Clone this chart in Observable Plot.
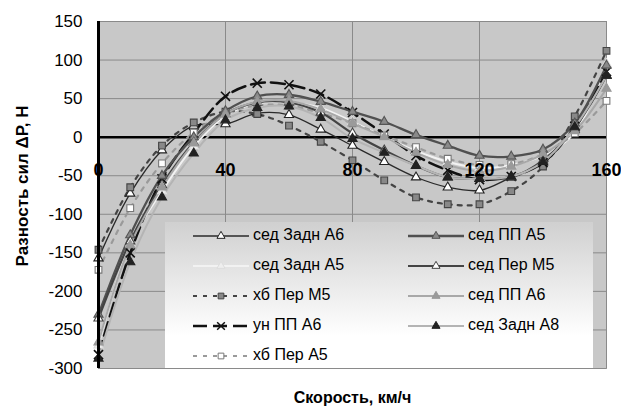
<!DOCTYPE html>
<html><head><meta charset="utf-8">
<script src="https://cdn.jsdelivr.net/npm/d3@7"></script>
<script src="https://cdn.jsdelivr.net/npm/@observablehq/plot@0.6"></script>
<style>
body{margin:0;background:#fff;font-family:"Liberation Sans",Arial,sans-serif;}
#wrap{position:relative;width:621px;height:412px;}
#legend{position:absolute;left:165px;top:222px;width:428px;height:146px;background:linear-gradient(#d0d0d0,#ffffff 78%);}
.item{position:absolute;display:flex;align-items:center;font-size:16px;color:#000;height:20px;white-space:nowrap;}
.item svg{margin-right:4px;}
</style></head><body><div id="wrap"></div>
<script>
// ---- data ----
const speeds = [0,10,20,30,40,50,60,70,80,90,100,110,120,130,140,150,160];
const sedZadnA6 = [-157,-73,-17,15,17,31,29,10,-11,-32,-52,-65,-69,-52,-33,10,80];
const sedZadnA5 = [-270,-138,-70,-12,28,44,45,38,20,0,-18,-32,-40,-36,-24,6,95];
const hbPerM5   = [-146,-65,-11,19,33,30,15,-6,-30,-56,-78,-87,-87,-70,-38,27,112];
const unPPA6    = [-282,-150,-54,5,53,70,68,56,32,4,-24,-43,-55,-51,-33,14,85];
const hbPerA5   = [-172,-92,-34,6,31,41,41,31,18,2,-13,-28,-36,-35,-22,5,47];
const sedPPA5   = [-230,-127,-50,0,34,53,55,46,33,20,3,-11,-24,-25,-16,18,93];
const sedPerM5  = [-235,-135,-62,-7,30,45,45,32,5,-17,-37,-52,-54,-52,-30,12,80];
const sedPPA6   = [-266,-140,-65,-8,30,46,47,36,18,0,-20,-36,-44,-38,-22,8,63];
const sedZadnA8 = [-287,-162,-78,-21,22,38,40,25,-2,-20,-37,-52,-54,-51,-32,13,80];
const seriesNames = ["сед Задн А6","сед Задн А5","хб Пер М5","ун ПП А6","хб Пер А5","сед ПП А5","сед Пер М5","сед ПП А6","сед Задн А8"];
const seriesValues = [sedZadnA6,sedZadnA5,hbPerM5,unPPA6,hbPerA5,sedPPA5,sedPerM5,sedPPA6,sedZadnA8];
const yTicks = [-300,-250,-200,-150,-100,-50,0,50,100,150];
const xTicks = [0,40,80,120,160];

// ---- styles ----
const styles = [
  {stroke:"#2a2a2a", w:1.3, dash:null, sym:"triangle", fill:"#fff", ms:"#222"},
  {stroke:"#f2f2f2", w:2, dash:null, sym:"triangle", fill:"#eee", ms:"#ddd"},
  {stroke:"#444", w:2.2, dash:"4,6", sym:"square", fill:"#888", ms:"#444"},
  {stroke:"#111", w:2.5, dash:"14,6", sym:"times", fill:"none", ms:"#111"},
  {stroke:"#9a9a9a", w:2.2, dash:"4,6", sym:"square", fill:"#fff", ms:"#777"},
  {stroke:"#505050", w:2.3, dash:null, sym:"triangle", fill:"#8a8a8a", ms:"#555"},
  {stroke:"#444", w:2.2, dash:null, sym:"triangle", fill:"#fff", ms:"#444"},
  {stroke:"#a8a8a8", w:2, dash:null, sym:"triangle", fill:"#9a9a9a", ms:"#999"},
  {stroke:"#b4b4b4", w:2, dash:null, sym:"triangle", fill:"#222", ms:"#222"}
];
const symR = {triangle:3.4, square:3.8, times:4.2};

const marks = [
  Plot.frame({fill:"#c8c8c8", stroke:"#999"}),
  Plot.gridY(yTicks, {stroke:"#8a8a8a", strokeOpacity:1, strokeWidth:1}),
  Plot.gridX([40,80,120,160], {stroke:"#8a8a8a", strokeOpacity:1, strokeWidth:1}),
  Plot.ruleY([0], {stroke:"#000", strokeWidth:2.5})
];
seriesValues.forEach((vals, k) => {
  const st = styles[k];
  const rows = speeds.map((x,i) => ({x, y: vals[i]}));
  marks.push(Plot.line(rows, {x:"x", y:"y", curve:"catmull-rom", stroke:st.stroke, strokeWidth:st.w, strokeDasharray:st.dash}));
});
seriesValues.forEach((vals, k) => {
  const st = styles[k];
  const rows = speeds.map((x,i) => ({x, y: vals[i]}));
  marks.push(Plot.dot(rows, {x:"x", y:"y", symbol:st.sym, r:symR[st.sym], fill:st.fill, stroke:st.ms, strokeWidth: st.sym==="times"?1.6:1.1}));
});
marks.push(
  Plot.ruleX([0], {stroke:"#000", strokeWidth:3}),
  Plot.axisY({ticks:yTicks, tickSize:0, tickPadding:16, fontSize:17, label:null, tickFormat:d=>String(d)}),
  Plot.text(xTicks, {x:d=>d, y:()=>0, dy:33, text:d=>String(d), fontWeight:"bold", fontSize:18, fill:"#000"}),
  Plot.text(["Скорость, км/ч"], {frameAnchor:"bottom", dy:34, fontWeight:"bold", fontSize:16, fill:"#000"}),
  Plot.text(["Разность сил ΔР, Н"], {frameAnchor:"left", dx:-76, dy:-9, rotate:-90, textAnchor:"middle", fontWeight:"bold", fontSize:17, fill:"#000"})
);

const chart = Plot.plot({
  width:621, height:412,
  marginLeft:98, marginRight:15, marginTop:21, marginBottom:44,
  style:{fontFamily:"Liberation Sans, Arial, sans-serif", background:"#fff", color:"#000"},
  x:{domain:[0,160], axis:null},
  y:{domain:[-300,150], axis:null},
  marks
});
const wrap = document.getElementById("wrap");
wrap.appendChild(chart);

// ---- legend ----
const legend = document.createElement("div");
legend.id = "legend";
wrap.appendChild(legend);
const ns = "http://www.w3.org/2000/svg";
function symbolPath(sym, r) {
  const t = sym==="triangle"?d3.symbolTriangle:sym==="square"?d3.symbolSquare:d3.symbolTimes;
  return d3.symbol(t, Math.PI*r*r)();
}
seriesNames.forEach((name, k) => {
  const st = styles[k];
  const col = k < 5 ? 0 : 1;
  const row = k < 5 ? k : k - 5;
  const item = document.createElement("div");
  item.className = "item";
  item.style.left = (col ? 243 : 28) + "px";
  item.style.top = (3 + row*30) + "px";
  const svg = document.createElementNS(ns, "svg");
  svg.setAttribute("width", 56); svg.setAttribute("height", 20);
  const line = document.createElementNS(ns, "line");
  line.setAttribute("x1", 0); line.setAttribute("x2", 56);
  line.setAttribute("y1", 11); line.setAttribute("y2", 11);
  line.setAttribute("stroke", st.stroke); line.setAttribute("stroke-width", st.w);
  if (st.dash) line.setAttribute("stroke-dasharray", st.dash);
  svg.appendChild(line);
  const p = document.createElementNS(ns, "path");
  p.setAttribute("d", symbolPath(st.sym, st.sym==="triangle"?3.0:symR[st.sym]*0.85));
  p.setAttribute("transform", "translate(28,11)");
  p.setAttribute("fill", st.fill); p.setAttribute("stroke", st.ms);
  p.setAttribute("stroke-width", st.sym==="times"?1.5:1);
  svg.appendChild(p);
  item.appendChild(svg);
  const span = document.createElement("span");
  span.textContent = name;
  item.appendChild(span);
  legend.appendChild(item);
});
</script>
</body></html>
